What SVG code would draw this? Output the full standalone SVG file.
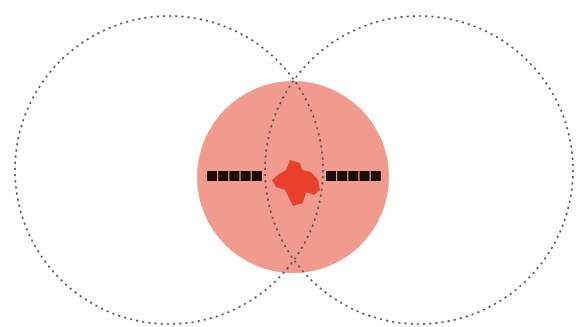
<svg xmlns="http://www.w3.org/2000/svg" width="578" height="327" viewBox="0 0 578 327">
<style>
.zone{fill:none;stroke:#555;stroke-width:1.7;stroke-dasharray:2.2 4;}
.bar{fill:none;stroke:#1a0a0a;stroke-width:10;stroke-dasharray:10 1.2;}
</style>
<rect width="578" height="327" fill="#fff"/>
<g id="coverage">
<circle cx="293" cy="177" r="96" fill="#f19a8e"/>
</g>
<g id="left-zone"><circle class="zone" cx="169" cy="170" r="154"/></g>
<g id="right-zone"><circle class="zone" cx="419" cy="170" r="154"/></g>
<g id="left-panel"><line class="bar" x1="207" y1="176" x2="263" y2="176"/></g>
<g id="right-panel"><line class="bar" x1="326" y1="176" x2="382" y2="176"/></g>
<g id="body">
<path d="M290 160 L300 163 L302 170 L311 172 L318 180 L320 190 L314 195 L306 192 L303 203 L293 206 L289 198 L285 190 L276 187 L272 180 L279 174 L286 170 Z" fill="#e8402a"/>
</g>
</svg>
